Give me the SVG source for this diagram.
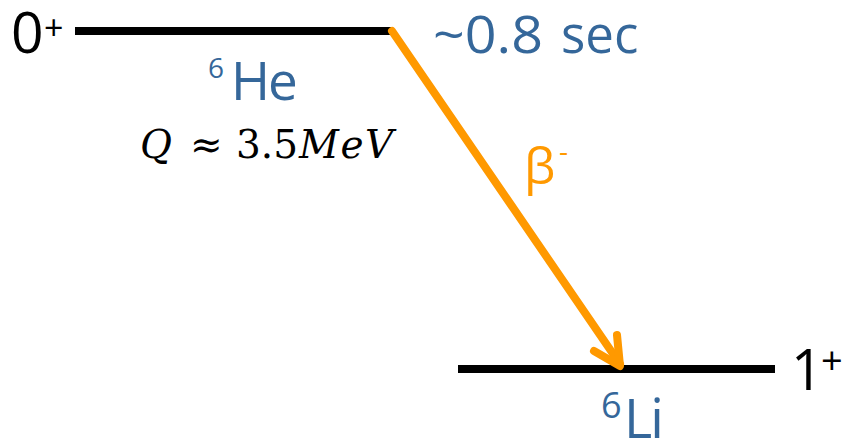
<svg xmlns="http://www.w3.org/2000/svg" width="845" height="439" viewBox="0 0 845 439">
<style>
.lvl{stroke:#000;stroke-width:8;fill:none}
.arr{stroke:#FF9900;stroke-width:8;fill:none;stroke-linecap:round;stroke-linejoin:round}
.s{font-family:"Open Sans","Liberation Sans",sans-serif}
.blue{fill:#35679A}
.m{font-family:"DejaVu Serif","Liberation Serif",serif;fill:#000}
</style>
<rect width="845" height="439" fill="#fff"/>
<g id="he6">
<line class="lvl" x1="75" y1="31" x2="392" y2="31"/>
<text class="s" x="11" y="53" font-size="57" fill="#000">0</text>
<text class="s" x="44" y="40" font-size="34" fill="#000">+</text>
<text class="s blue" x="208" y="78" font-size="28">6</text>
<text class="s blue" x="231" y="100" font-size="53" letter-spacing="-2">He</text>
<text class="s blue" x="433" y="53" font-size="51" textLength="110" lengthAdjust="spacingAndGlyphs">~0.8</text>
<text class="s blue" x="561" y="53" font-size="51">sec</text>
<text class="m" y="158" font-size="39"><tspan x="140" font-style="italic">Q</tspan><tspan x="190">≈</tspan><tspan x="236">3.5</tspan><tspan x="299" font-style="italic" letter-spacing="1.5">MeV</tspan></text>
</g>
<g id="li6">
<line class="lvl" x1="458" y1="369" x2="775" y2="369"/>
<text class="s" x="791" y="390" font-size="56" fill="#000">1</text>
<text class="s" x="821" y="374" font-size="38" fill="#000">+</text>
<text class="s blue" x="601" y="418" font-size="36">6</text>
<text class="s blue" x="624" y="438" font-size="54" letter-spacing="-2">Li</text>
</g>
<g id="connectors">
<line class="arr" x1="392" y1="31" x2="620" y2="364"/>
<polyline class="arr" points="594,351 620,366 617,335"/>
<text class="s" x="524" y="184" font-size="50" fill="#FF9900">β</text>
<text class="s" x="559" y="161" font-size="28" fill="#FF9900">-</text>
</g>
</svg>
